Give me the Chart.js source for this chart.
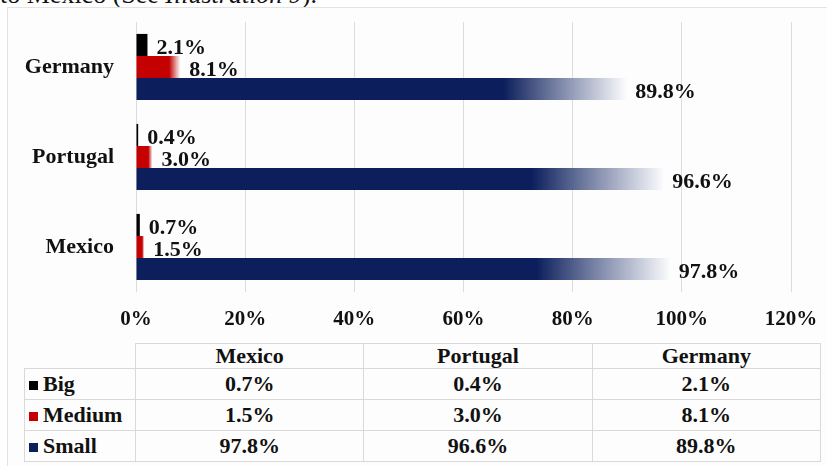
<!DOCTYPE html>
<html>
<head>
<meta charset="utf-8">
<script src="https://cdn.jsdelivr.net/npm/chart.js@4/dist/chart.umd.min.js"></script>
<style>
  html, body { margin: 0; padding: 0; background: #fff; }
  body { width: 827px; height: 466px; position: relative; overflow: hidden; font-family: "Liberation Serif", "Times New Roman", serif; color: #111; }
  .lead { position: absolute; left: 0; top: -18px; font-size: 26px; line-height: 26px; white-space: nowrap; color: #111; }
  .frame { position: absolute; left: 7px; top: 7px; width: 840px; height: 470px; border: 1px solid #e3e3e3; background: #fdfdfd; }
  .chart-wrap { position: absolute; left: 8px; top: 8px; width: 814px; height: 330px; }
  table.data { position: absolute; left: 24px; top: 343px; width: 797px; border-collapse: collapse; table-layout: fixed; font-weight: bold; font-size: 22px; }
  table.data td { border: 1px solid #d9d9d9; text-align: center; padding: 0; height: 30px; line-height: 30px; }
  table.data tr.head td { height: 24px; line-height: 24px; }
  table.data td.corner { border-top: none; border-left: none; }
  table.data td.key { text-align: left; padding-left: 4px; white-space: nowrap; }
  .swatch { display: inline-block; width: 9px; height: 9px; margin-right: 5px; vertical-align: 1px; }
</style>
</head>
<body>
<div class="lead">to Mexico (See <i>Illustration 9</i>).</div>
<div class="frame"></div>
<div class="chart-wrap"><canvas id="chart-size"></canvas></div>
<table class="data" id="size-table"></table>

<script>
// Company size shares by country
const COUNTRIES = ["Germany", "Portugal", "Mexico"];
const TABLE_ORDER = ["Mexico", "Portugal", "Germany"];
const SERIES = ["Big", "Medium", "Small"];
const BIG = [2.1, 0.4, 0.7];
const MEDIUM = [8.1, 3.0, 1.5];
const SMALL = [89.8, 96.6, 97.8];
const X_MAX = 120;
const X_STEP = 20;

const COLORS = { Big: "#000000", Medium: "#c40000", Small: "#0c1f5c" };
const FONT = "'Liberation Serif', 'Times New Roman', serif";

// bars keep their colour for ~3/4 of the length, then fade out
function fadeFill(context, base) {
  const chart = context.chart;
  if (!chart.chartArea || !chart.scales.x) return base;
  const xs = chart.scales.x;
  const x0 = xs.getPixelForValue(0);
  const x1 = xs.getPixelForValue(context.raw);
  if (x1 - x0 < 3) return base;
  const g = chart.ctx.createLinearGradient(x0, 0, x1, 0);
  g.addColorStop(0, base);
  g.addColorStop(0.75, base);
  g.addColorStop(1, "rgba(250,251,253,0.95)");
  return g;
}

const valueLabels = {
  id: "valueLabels",
  afterDatasetsDraw(chart) {
    const ctx = chart.ctx;
    ctx.save();
    ctx.font = "bold 22px " + FONT;
    ctx.fillStyle = "#111";
    ctx.textAlign = "left";
    ctx.textBaseline = "alphabetic";
    chart.data.datasets.forEach((ds, di) => {
      chart.getDatasetMeta(di).data.forEach((el, i) => {
        ctx.fillText(ds.data[i].toFixed(1) + "%", el.x + 9, el.y + 9);
      });
    });
    ctx.restore();
  },
};

new Chart(document.getElementById("chart-size"), {
  type: "bar",
  data: {
    labels: COUNTRIES,
    datasets: [
      { label: "Big", data: BIG, backgroundColor: COLORS.Big },
      { label: "Medium", data: MEDIUM, backgroundColor: (c) => fadeFill(c, COLORS.Medium) },
      { label: "Small", data: SMALL, backgroundColor: (c) => fadeFill(c, COLORS.Small) },
    ],
  },
  options: {
    indexAxis: "y",
    responsive: true,
    maintainAspectRatio: false,
    animation: false,
    datasets: { bar: { barPercentage: 1.0, categoryPercentage: 0.735 } },
    layout: { padding: { top: 14, right: 31 } },
    plugins: { legend: { display: false }, tooltip: { enabled: false } },
    scales: {
      x: {
        min: 0,
        max: X_MAX,
        ticks: {
          stepSize: X_STEP,
          padding: 15,
          color: "#111",
          font: { family: FONT, size: 21, weight: "bold" },
          callback: (v) => v + "%",
        },
        grid: { color: "#dcdcdc", lineWidth: 1, drawTicks: false },
        border: { display: false },
        afterFit: (s) => { s.height = 46; s.paddingLeft = 0; s.paddingRight = 0; },
      },
      y: {
        ticks: {
          padding: 22,
          color: "#111",
          font: { family: FONT, size: 22, weight: "bold" },
        },
        grid: { display: false, drawTicks: false },
        border: { display: false },
        afterFit: (s) => { s.width = 128; s.paddingTop = 0; s.paddingBottom = 0; },
      },
    },
  },
  plugins: [valueLabels],
});

// data table under the chart
const seriesValues = { Big: BIG, Medium: MEDIUM, Small: SMALL };
const table = document.getElementById("size-table");
let html = '<colgroup><col style="width:111px"><col><col><col></colgroup>';
html += '<tr class="head"><td class="corner"></td>' + TABLE_ORDER.map((c) => "<td>" + c + "</td>").join("") + "</tr>";
SERIES.forEach((name) => {
  html += '<tr><td class="key"><span class="swatch" style="background:' + COLORS[name] + '"></span>' + name + "</td>";
  TABLE_ORDER.forEach((c) => {
    html += "<td>" + seriesValues[name][COUNTRIES.indexOf(c)].toFixed(1) + "%</td>";
  });
  html += "</tr>";
});
table.innerHTML = html;
</script>
</body>
</html>
